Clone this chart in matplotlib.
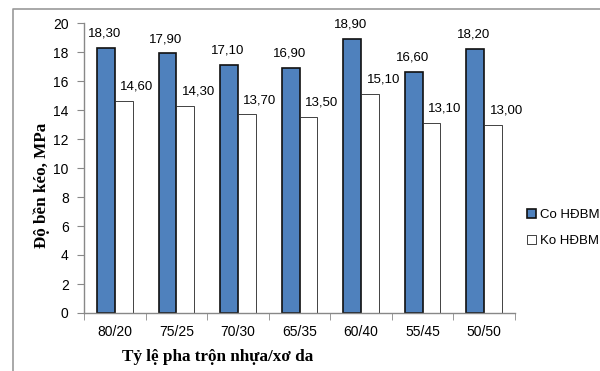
import matplotlib.pyplot as plt
import numpy as np
from matplotlib.lines import Line2D

# data
ratios = ['80/20', '75/25', '70/30', '65/35', '60/40', '55/45', '50/50']
co_hdbm = [18.30, 17.90, 17.10, 16.90, 18.90, 16.60, 18.20]
ko_hdbm = [14.60, 14.30, 13.70, 13.50, 15.10, 13.10, 13.00]
series_names = ['Co HĐBM', 'Ko HĐBM']

W, H = 600, 371
fig = plt.figure(figsize=(6, 3.71), dpi=100)
ax = fig.add_axes([84 / W, 1 - 313 / H, (515 - 84) / W, (313 - 23) / H])

x = np.arange(len(ratios))
bw = 0.29
b1 = ax.bar(x - bw / 2, co_hdbm, bw, color='#4F81BD', edgecolor='#111111',
            linewidth=1.2, label=series_names[0])
b2 = ax.bar(x + bw / 2, ko_hdbm, bw, color='white', edgecolor='#222222',
            linewidth=0.6, label=series_names[1])

# value labels (white-bar labels sit to the right, like Excel did)
for bars, vals, dx in ((b1, co_hdbm, -1), (b2, ko_hdbm, 9.5)):
    for r, v in zip(bars, vals):
        ax.annotate(f'{v:.2f}'.replace('.', ','),
                    (r.get_x() + r.get_width() / 2, v),
                    xytext=(dx, 6), textcoords='offset points',
                    ha='center', va='bottom', fontsize=9.5,
                    family='Liberation Sans')

ax.set_xlim(-0.5, len(ratios) - 0.5)
ax.set_ylim(0, 20)
ax.set_yticks(range(0, 21, 2))
ax.set_xticks(x)
ax.set_xticklabels(ratios)
ax.set_xticks(np.arange(-0.5, len(ratios), 1), minor=True)
ax.tick_params(axis='x', which='major', length=0, pad=9)
ax.tick_params(axis='x', which='minor', length=5, color='#888888')
ax.tick_params(axis='y', length=5, color='#888888', pad=6)
for lab in ax.get_xticklabels() + ax.get_yticklabels():
    lab.set_family('Liberation Sans')
    lab.set_fontsize(10)

for s in ('top', 'right'):
    ax.spines[s].set_visible(False)
for s in ('left', 'bottom'):
    ax.spines[s].set_color('#888888')
    ax.spines[s].set_linewidth(1)

fig.text(42 / W, 1 - 185 / H, 'Độ bền kéo, MPa', family='Liberation Serif',
         fontweight='bold', fontsize=12.3, rotation=90,
         ha='center', va='center')
fig.text(218 / W, 1 - 357 / H, 'Tỷ lệ pha trộn nhựa/xơ da',
         family='Liberation Serif', fontweight='bold', fontsize=12.3,
         ha='center', va='center')

leg = fig.legend(handles=[b1, b2], loc='center left',
                 bbox_to_anchor=(515 / W, 1 - 228 / H), frameon=False,
                 prop={'family': 'Liberation Sans', 'size': 9.5},
                 handlelength=0.7, handleheight=0.7, handletextpad=0.3,
                 labelspacing=1.1)

# outer frame
fig.add_artist(Line2D([13 / W, 13 / W, 1], [0, 1 - 9 / H, 1 - 9 / H],
                      transform=fig.transFigure, color='#999999', lw=1.2))

fig.savefig('out.png', dpi=100)
